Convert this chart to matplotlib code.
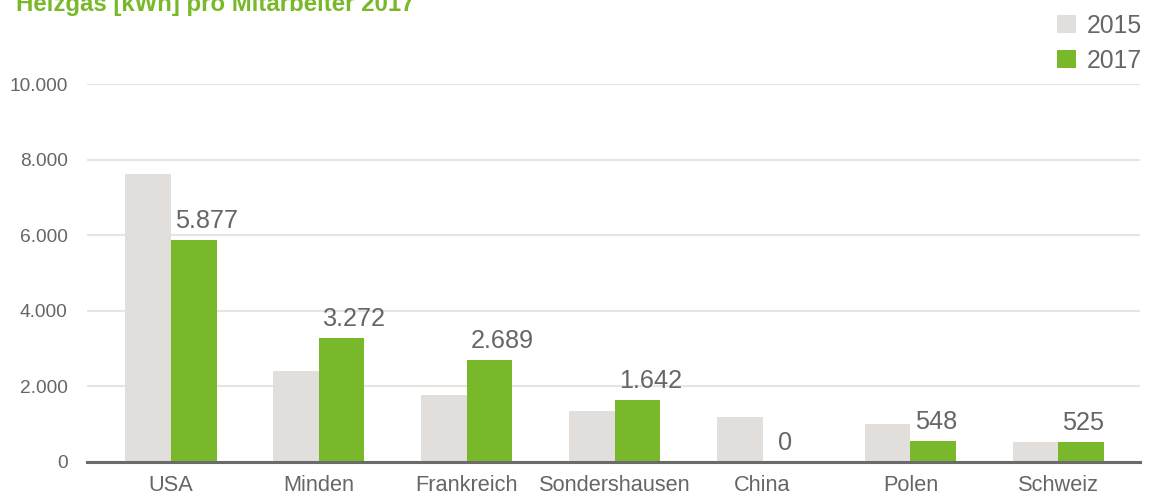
import matplotlib
matplotlib.use("Agg")
import matplotlib.pyplot as plt
import numpy as np

categories = ["USA", "Minden", "Frankreich", "Sondershausen", "China", "Polen", "Schweiz"]
values_2015 = [7630, 2410, 1780, 1360, 1200, 1010, 520]
values_2017 = [5877, 3272, 2689, 1642, 0, 548, 525]
labels_2017 = ["5.877", "3.272", "2.689", "1.642", "0", "548", "525"]
yticks = [0, 2000, 4000, 6000, 8000, 10000]
ytick_labels = ["0", "2.000", "4.000", "6.000", "8.000", "10.000"]
title = "Heizgas [kWh] pro Mitarbeiter 2017"

GREY_BAR = "#e2dedb"
GREEN = "#78b82a"
TEXT = "#666666"
GRID = "#e8e4e1"
AXIS = "#6b6b6b"

plt.rcParams["font.family"] = ["Liberation Sans", "DejaVu Sans"]

W, H = 1150, 499
fig = plt.figure(figsize=(W / 100, H / 100), dpi=100)
ax = fig.add_axes([87 / W, (H - 462) / H, (1140 - 87) / W, (462 - 84) / H])

x = np.arange(len(categories))
bw = 0.308
b15 = ax.bar(x - bw / 2, values_2015, bw, color=GREY_BAR, label="2015", zorder=2)
b17 = ax.bar(x + bw / 2, values_2017, bw, color=GREEN, label="2017", zorder=2)

ax.set_xlim(-0.568, 6.552)
ax.set_ylim(0, 10000)
ax.set_yticks(yticks)
ax.set_yticklabels(ytick_labels)
ax.set_xticks(x)
ax.set_xticklabels(categories)
ax.tick_params(axis="y", length=0, pad=14, labelsize=13.8, labelcolor=TEXT)
ax.tick_params(axis="x", length=0, pad=9.5, labelsize=15.7, labelcolor=TEXT)
for lab in ax.get_yticklabels():
    lab.set_va("center_baseline")

ax.grid(axis="y", color=GRID, linewidth=1.5, zorder=0)
for s in ["top", "right", "left"]:
    ax.spines[s].set_visible(False)
ax.spines["bottom"].set_color(AXIS)
ax.spines["bottom"].set_linewidth(2.2)
ax.spines["bottom"].set_zorder(3)

# value labels above the 2017 bars
for xi, v, lab in zip(x, values_2017, labels_2017):
    if len(lab) >= 3:
        ax.annotate(lab, (xi, v), xytext=(3, 5), textcoords="offset points",
                    ha="left", va="bottom", fontsize=18.2, color=TEXT)
    else:
        ax.annotate(lab, (xi + bw / 2, v), xytext=(0, 5), textcoords="offset points",
                    ha="center", va="bottom", fontsize=18.2, color=TEXT)

fig.text(16 / W, 1 - 11 / H, title, ha="left", va="baseline",
         fontsize=17.3, fontweight="bold", color=GREEN)

leg = fig.legend(handles=[b15, b17], loc="upper right",
                 bbox_to_anchor=(1152 / W, 1 - 4 / H), frameon=False,
                 handlelength=0.75, handleheight=0.75, handletextpad=0.45,
                 labelspacing=0.45, fontsize=17.8, labelcolor=TEXT, borderaxespad=0)

fig.savefig("out.png", dpi=100)
